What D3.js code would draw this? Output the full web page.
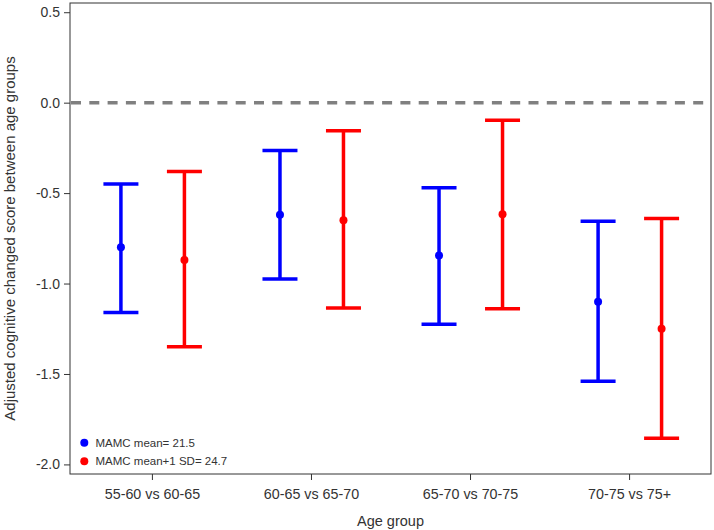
<!DOCTYPE html>
<html><head><meta charset="utf-8">
<script src="https://cdn.jsdelivr.net/npm/d3@7"></script>
<style>body{margin:0;background:#fff}text{font-family:"Liberation Sans",Arial,sans-serif}</style>
</head><body><svg id="c" width="714" height="530"></svg>
<script>
const categories = ["55-60 vs 60-65", "60-65 vs 65-70", "65-70 vs 70-75", "70-75 vs 75+"];
const seriesNames = ["MAMC mean= 21.5", "MAMC mean+1 SD= 24.7"];
const seriesColors = ["#0000ff", "#ff0000"];
const blueMean = [-0.80, -0.62, -0.845, -1.10];
const blueUpper = [-0.45, -0.265, -0.47, -0.655];
const blueLower = [-1.16, -0.975, -1.225, -1.54];
const redMean = [-0.87, -0.65, -0.617, -1.25];
const redUpper = [-0.38, -0.155, -0.097, -0.64];
const redLower = [-1.35, -1.135, -1.14, -1.855];
const yTicks = [0.5, 0.0, -0.5, -1.0, -1.5, -2.0];
const refValue = 0;

const svg = d3.select("#c");
const L = 70, R = 711, T = 3, B = 474;
const y = d3.scaleLinear().domain([-2.053, 0.551]).range([B, T]);
const x = d3.scalePoint().domain(categories).range([L, R]).padding(0.515);
const offsets = [-31, 32.5];

// frame
svg.append("rect").attr("x", L).attr("y", T).attr("width", R - L).attr("height", B - T)
  .attr("fill", "none").attr("stroke", "#333").attr("stroke-width", 1);

// y axis
const ya = svg.append("g").attr("transform", `translate(${L},0)`)
  .call(d3.axisLeft(y).tickValues(yTicks).tickFormat(d3.format(".1f")).tickSize(6).tickPadding(4));
ya.select(".domain").remove();
ya.selectAll("line").attr("stroke", "#333");
ya.selectAll("text").attr("font-size", 14).attr("fill", "#333").text(d => d3.format(".1f")(d).replace("−", "-"));

// x axis
const xa = svg.append("g").attr("transform", `translate(0,${B})`)
  .call(d3.axisBottom(x).tickSize(6).tickPadding(9));
xa.select(".domain").remove();
xa.selectAll("line").attr("stroke", "#333");
xa.selectAll("text").attr("font-size", 14.3).attr("fill", "#333");

// titles
svg.append("text").attr("x", (L + R) / 2).attr("y", 525.5).attr("text-anchor", "middle")
  .attr("font-size", 14.5).attr("fill", "#333").text("Age group");
svg.append("text").attr("transform", `translate(15,${(T + B) / 2}) rotate(-90)`).attr("text-anchor", "middle")
  .attr("font-size", 15).attr("fill", "#333").text("Adjusted cognitive changed score between age groups");

// reference line
svg.append("line").attr("x1", L + 1).attr("x2", R - 1).attr("y1", y(refValue)).attr("y2", y(refValue))
  .attr("stroke", "#808080").attr("stroke-width", 3.5).attr("stroke-dasharray", "10,8.3");

const series = [
  {mean: blueMean, up: blueUpper, lo: blueLower},
  {mean: redMean, up: redUpper, lo: redLower}
];
const capW = 35;
series.forEach((s, si) => {
  const g = svg.append("g").attr("stroke", seriesColors[si]).attr("fill", seriesColors[si]);
  categories.forEach((c, i) => {
    const cx = x(c) + offsets[si];
    g.append("line").attr("x1", cx).attr("x2", cx).attr("y1", y(s.up[i])).attr("y2", y(s.lo[i])).attr("stroke-width", 3.5);
    g.append("line").attr("x1", cx - capW / 2).attr("x2", cx + capW / 2).attr("y1", y(s.up[i])).attr("y2", y(s.up[i])).attr("stroke-width", 3.5);
    g.append("line").attr("x1", cx - capW / 2).attr("x2", cx + capW / 2).attr("y1", y(s.lo[i])).attr("y2", y(s.lo[i])).attr("stroke-width", 3.5);
    g.append("circle").attr("cx", cx).attr("cy", y(s.mean[i])).attr("r", 4).attr("stroke", "none");
  });
});

// legend
seriesNames.forEach((n, i) => {
  const ly = 442.7 + i * 18.6;
  svg.append("circle").attr("cx", 84.3).attr("cy", ly).attr("r", 4).attr("fill", seriesColors[i]);
  svg.append("text").attr("x", 95.5).attr("y", ly + 4).attr("font-size", 11.5).attr("fill", "#333").text(n);
});
</script></body></html>
